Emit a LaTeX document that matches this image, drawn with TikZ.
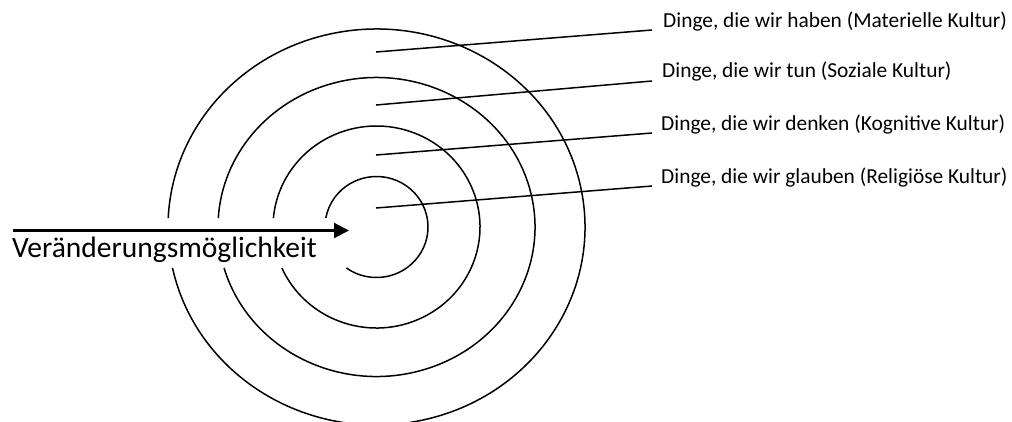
\documentclass[tikz,border=0pt]{standalone}
\usepackage{fontspec}
\setmainfont{Carlito}
\usetikzlibrary{arrows.meta}
\begin{document}
\begin{tikzpicture}[x=1bp,y=1bp,
  ring/.style={line width=1.5bp},
  leader/.style={line width=1.5bp},
  lbl/.style={inner sep=0pt,anchor=base west,font=\fontsize{21.4bp}{24bp}\selectfont},
  biglbl/.style={inner sep=0pt,anchor=base west,font=\fontsize{29.5bp}{32bp}\selectfont}]
\useasboundingbox (0,0) rectangle (1012,-421);
\coordinate (C) at (376.5,-227);
% rings with a gap on the left
\draw[ring] ([shift={(234.3:51.5bp and 50.5bp)}]C) arc[start angle=234.3,end angle=529.7,x radius=51.5bp,y radius=50.5bp];
\draw[ring] ([shift={(203.95:103.5bp and 101bp)}]C) arc[start angle=203.95,end angle=534.9,x radius=103.5bp,y radius=101bp];
\draw[ring] ([shift={(195.9:158.5bp and 149.5bp)}]C) arc[start angle=195.9,end angle=536.55,x radius=158.5bp,y radius=149.5bp];
\draw[ring] ([shift={(191.95:208.5bp and 198bp)}]C) arc[start angle=191.95,end angle=537.4,x radius=208.5bp,y radius=198bp];
% labels
\node[lbl] (l1) at (663,-27) {Dinge, die wir haben (Materielle Kultur)};
\node[lbl] (l2) at (662,-77) {Dinge, die wir tun (Soziale Kultur)};
\node[lbl] (l3) at (661,-130) {Dinge, die wir denken (Kognitive Kultur)};
\node[lbl] (l4) at (661,-183) {Dinge, die wir glauben (Religiöse Kultur)};
% leader lines
\coordinate (s1) at (376,-52);  \coordinate (e1) at (652,-30);
\coordinate (s2) at (376,-105); \coordinate (e2) at (652,-81);
\coordinate (s3) at (376,-155); \coordinate (e3) at (652,-133);
\coordinate (s4) at (376,-208); \coordinate (e4) at (652,-186);
\draw[leader] (s1) -- (e1);
\draw[leader] (s2) -- (e2);
\draw[leader] (s3) -- (e3);
\draw[leader] (s4) -- (e4);
% arrow and its label
\coordinate (a0) at (13,-230.5);
\coordinate (a1) at (349,-230.5);
\draw[line width=2.2bp,-{Triangle[length=15bp,width=15bp]}] (a0) -- (a1);
\node[biglbl] (v) at (12,-257) {Veränderungsmöglichkeit};
\end{tikzpicture}
\end{document}
